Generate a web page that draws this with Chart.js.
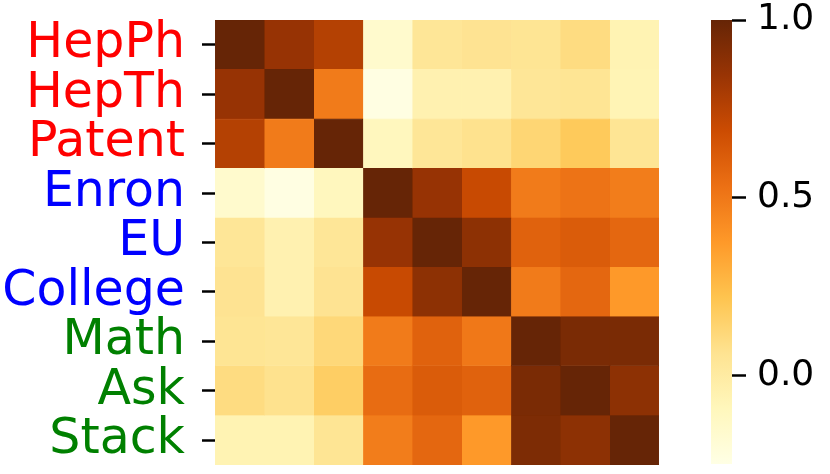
<!DOCTYPE html>
<html>
<head>
<meta charset="utf-8">
<script src="https://cdn.jsdelivr.net/npm/chart.js@4/dist/chart.umd.min.js"></script>
<style>
  html, body { margin: 0; padding: 0; background: #fff; width: 830px; height: 474px; overflow: hidden; }
  #heat { position: absolute; left: 0; top: 0; }
  #cbar { position: absolute; left: 700px; top: 0; }
</style>
</head>
<body>
<canvas id="heat" width="670" height="474"></canvas>
<canvas id="cbar" width="130" height="474"></canvas>
<script>
// ---- data ----
const labels = ["HepPh", "HepTh", "Patent", "Enron", "EU", "College", "Math", "Ask", "Stack"];
const labelColors = ["#ff0000", "#ff0000", "#ff0000", "#0000ff", "#0000ff", "#0000ff", "#008000", "#008000", "#008000"];
const rowHepPh   = [1.00, 0.85, 0.76, -0.16, 0.04, 0.06, 0.05, 0.10, -0.06];
const rowHepTh   = [0.85, 1.00, 0.49, -0.24, -0.05, -0.05, 0.04, 0.05, -0.07];
const rowPatent  = [0.76, 0.49, 1.00, -0.10, 0.04, 0.07, 0.13, 0.19, 0.05];
const rowEnron   = [-0.16, -0.24, -0.10, 1.00, 0.85, 0.70, 0.49, 0.52, 0.48];
const rowEU      = [0.04, -0.05, 0.04, 0.85, 1.00, 0.88, 0.59, 0.62, 0.57];
const rowCollege = [0.06, -0.05, 0.06, 0.70, 0.88, 1.00, 0.49, 0.57, 0.375];
const rowMath    = [0.05, 0.04, 0.12, 0.49, 0.59, 0.50, 1.00, 0.94, 0.94];
const rowAsk     = [0.10, 0.07, 0.17, 0.55, 0.62, 0.59, 0.94, 1.00, 0.88];
const rowStack   = [-0.06, -0.06, 0.05, 0.48, 0.57, 0.375, 0.93, 0.88, 1.00];
const matrix = [rowHepPh, rowHepTh, rowPatent, rowEnron, rowEU, rowCollege, rowMath, rowAsk, rowStack];
const vmin = -0.25, vmax = 1.0;
const cbarTicks = [0.0, 0.5, 1.0];

// ---- YlOrBr colormap ----
const cmapStops = ["#ffffe5", "#fff7bc", "#fee391", "#fec44f", "#fe9929", "#ec7014", "#cc4c02", "#993404", "#662506"];
function hex2rgb(h) { return [parseInt(h.slice(1,3),16), parseInt(h.slice(3,5),16), parseInt(h.slice(5,7),16)]; }
const cmapRGB = cmapStops.map(hex2rgb);
function cmap(v) {
  let t = (v - vmin) / (vmax - vmin);
  t = Math.max(0, Math.min(1, t));
  const n = cmapRGB.length - 1;
  const f = t * n;
  const i = Math.min(n - 1, Math.floor(f));
  const u = f - i;
  const a = cmapRGB[i], b = cmapRGB[i + 1];
  const c = a.map((x, k) => Math.round(x + (b[k] - x) * u));
  return `rgb(${c[0]},${c[1]},${c[2]})`;
}

Chart.defaults.font.family = "'DejaVu Sans', sans-serif";
Chart.defaults.animation = false;

// ---- heatmap: horizontal stacked unit bars ----
const datasets = labels.map((colName, j) => ({
  label: colName,
  data: labels.map(() => 1),
  backgroundColor: matrix.map(row => cmap(row[j])),
  borderColor: matrix.map(row => cmap(row[j])),
  borderWidth: 0.6,
  borderSkipped: false,
  barPercentage: 1.0,
  categoryPercentage: 1.0
}));

new Chart(document.getElementById('heat'), {
  type: 'bar',
  data: { labels: labels, datasets: datasets },
  options: {
    responsive: false,
    indexAxis: 'y',
    layout: { padding: { top: 20, bottom: 9, left: 0, right: 11 } },
    plugins: { legend: { display: false }, tooltip: { enabled: false } },
    scales: {
      x: { type: 'linear', stacked: true, min: 0, max: labels.length, display: false },
      y: {
        type: 'category',
        stacked: true,
        afterFit: (s) => { s.width = 215; s.paddingTop = 0; s.paddingBottom = 0; },
        border: { display: false },
        grid: { offset: false, drawOnChartArea: false, drawTicks: true, tickLength: 13, tickWidth: 2.5, tickColor: '#000' },
        ticks: {
          autoSkip: false,
          padding: 17,
          font: { size: 49 },
          color: (ctx) => labelColors[ctx.index]
        }
      }
    }
  }
});

// ---- colorbar ----
new Chart(document.getElementById('cbar'), {
  type: 'bar',
  data: {
    labels: ['cb'],
    datasets: [{
      data: [[vmin, vmax]],
      borderWidth: 0,
      borderSkipped: false,
      barPercentage: 1.0,
      categoryPercentage: 1.0,
      backgroundColor: (ctx) => {
        const chart = ctx.chart;
        const ca = chart.chartArea;
        if (!ca) return cmapStops[4];
        const ys = chart.scales.y;
        const g = chart.ctx.createLinearGradient(0, ys.getPixelForValue(vmin), 0, ys.getPixelForValue(vmax));
        cmapStops.forEach((c, i) => g.addColorStop(i / (cmapStops.length - 1), c));
        return g;
      }
    }]
  },
  options: {
    responsive: false,
    layout: { padding: { top: 20, bottom: 10, left: 11, right: 0 } },
    plugins: { legend: { display: false }, tooltip: { enabled: false } },
    scales: {
      x: { display: false },
      y: {
        type: 'linear',
        position: 'right',
        min: vmin,
        max: vmax,
        afterFit: (s) => { s.width = 98; s.paddingTop = 0; s.paddingBottom = 0; },
        afterBuildTicks: (s) => { s.ticks = cbarTicks.map(v => ({ value: v })); },
        border: { display: false },
        grid: { drawOnChartArea: false, drawTicks: true, tickLength: 14, tickWidth: 2.5, tickColor: '#000' },
        ticks: {
          padding: 11,
          color: '#000',
          font: { size: 36 },
          callback: (v) => Number(v).toFixed(1)
        }
      }
    }
  }
});
</script>
</body>
</html>
